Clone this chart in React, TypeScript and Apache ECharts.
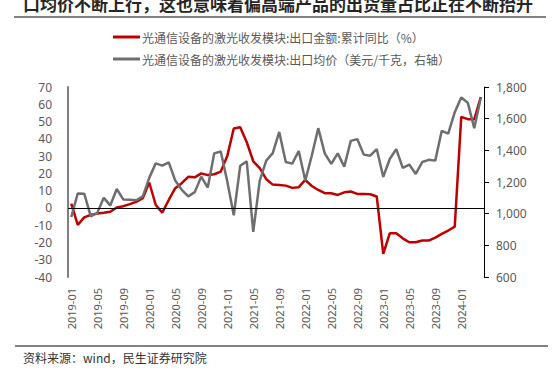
import React, { useEffect, useRef } from "react";
import * as echarts from "echarts";

const categories = [
  "2019-01","2019-02","2019-03","2019-04","2019-05","2019-06","2019-07","2019-08","2019-09","2019-10","2019-11","2019-12",
  "2020-01","2020-02","2020-03","2020-04","2020-05","2020-06","2020-07","2020-08","2020-09","2020-10","2020-11","2020-12",
  "2021-01","2021-02","2021-03","2021-04","2021-05","2021-06","2021-07","2021-08","2021-09","2021-10","2021-11","2021-12",
  "2022-01","2022-02","2022-03","2022-04","2022-05","2022-06","2022-07","2022-08","2022-09","2022-10","2022-11","2022-12",
  "2023-01","2023-02","2023-03","2023-04","2023-05","2023-06","2023-07","2023-08","2023-09","2023-10","2023-11","2023-12",
  "2024-01","2024-02","2024-03","2024-04",
];

// 出口金额:累计同比 (%)
const exportValueYoY = [
  2.5, -9.8, -5.5, -4, -3.3, -2.8, -2.2, 0.2, 1, 2.2, 3.5, 5.6,
  14.7, 1.7, -2.7, 4.6, 11.4, 14.3, 18, 17.7, 20, 19, 19.5, 21,
  30, 46, 46.7, 38, 27, 23, 16.6, 13.5, 13.3, 12.9, 11.6, 12,
  16.2, 12.7, 10.4, 8.5, 8.5, 7.5, 9, 9.5, 8.1, 8.1, 7.9, 6.6,
  -26.6, -14.7, -14.7, -17.6, -19.9, -19.9, -18.9, -18.9, -17.2, -15, -13.1, -10.8,
  52.7, 51.4, 51.3, 64.2,
];

// 出口均价 (美元/千克, 右轴)
const exportAvgPrice = [
  979, 1128, 1126, 983, 1005, 1100, 1052, 1156, 1090, 1088, 1085, 1109,
  1226, 1318, 1303, 1324, 1209, 1151, 1109, 1136, 1234, 1165, 1381, 1393,
  1205, 990, 1303, 1330, 885, 1209, 1335, 1382, 1516, 1326, 1316, 1396,
  1209, 1366, 1540, 1381, 1314, 1381, 1297, 1460, 1471, 1373, 1366, 1408,
  1232, 1345, 1408, 1289, 1310, 1251, 1326, 1340, 1335, 1523, 1505, 1641,
  1733, 1701, 1540, 1731,
];

const seriesNames = [
  "光通信设备的激光收发模块:出口金额:累计同比（%）",
  "光通信设备的激光收发模块:出口均价（美元/千克，右轴）",
];

const leftTicks = { min: -40, max: 70, interval: 10 };
const rightTicks = { min: 600, max: 1800, interval: 200 };

const titleText = "口均价不断上行，这也意味着偏高端产品的出货量占比正在不断抬升";
const sourceText = "资料来源：wind，民生证券研究院";

const FONT = '"Noto Sans", "Noto Sans CJK SC", sans-serif';
const CJK = '"Noto Sans CJK SC", sans-serif';

export default function App() {
  const ref = useRef<HTMLDivElement>(null);
  useEffect(() => {
    if (!ref.current) return;
    const chart = echarts.init(ref.current, undefined, { renderer: "svg" });
    chart.setOption({
      animation: false,
      backgroundColor: "#ffffff",
      textStyle: { fontFamily: FONT },
      grid: { left: 68, right: 73, top: 87, bottom: 100, containLabel: false },
      legend: {
        orient: "vertical",
        left: 113,
        top: 31,
        padding: 0,
        itemWidth: 27,
        itemHeight: 3,
        itemGap: 10,
        icon: "rect",
        textStyle: { fontSize: 12, color: "#595959", fontFamily: CJK, padding: [0, 0, 0, -3] },
        data: seriesNames,
      },
      xAxis: {
        type: "category",
        data: categories,
        boundaryGap: true,
        axisLine: { show: false },
        axisTick: { show: false },
        axisLabel: { interval: 3, rotate: 90, fontSize: 11, color: "#595959", margin: 11 },
        splitLine: { show: false },
      },
      yAxis: [
        {
          type: "value",
          min: leftTicks.min,
          max: leftTicks.max,
          interval: leftTicks.interval,
          axisLine: { show: true, lineStyle: { color: "#808080", width: 2 } },
          axisTick: { show: false },
          axisLabel: { fontSize: 12, color: "#595959", margin: 16 },
          splitLine: { show: false },
        },
        {
          type: "value",
          min: rightTicks.min,
          max: rightTicks.max,
          interval: rightTicks.interval,
          position: "right",
          axisLine: { show: true, lineStyle: { color: "#000000", width: 1 } },
          axisTick: { show: true, length: 5, lineStyle: { color: "#000000" } },
          axisLabel: {
            fontSize: 12,
            color: "#595959",
            margin: 12,
            formatter: (v: number) => v.toLocaleString("en-US"),
          },
          splitLine: { show: false },
        },
      ],
      series: [
        {
          name: seriesNames[0],
          type: "line",
          yAxisIndex: 0,
          data: exportValueYoY,
          symbol: "none",
          lineStyle: { color: "#C00000", width: 2.5 },
          itemStyle: { color: "#C00000" },
          markLine: {
            silent: true,
            symbol: "none",
            label: { show: false },
            lineStyle: { color: "#000000", width: 1, type: "solid" },
            data: [{ yAxis: 0 }],
          },
        },
        {
          name: seriesNames[1],
          type: "line",
          yAxisIndex: 1,
          data: exportAvgPrice,
          symbol: "none",
          lineStyle: { color: "#6E6E6E", width: 2.5 },
          itemStyle: { color: "#6E6E6E" },
        },
      ],
      graphic: [
        {
          type: "text",
          left: 23,
          top: -5,
          style: { text: titleText, font: `bold 17px ${CJK}`, fill: "#262626" },
        },
        {
          type: "line",
          shape: { x1: 14, y1: 17, x2: 546, y2: 17 },
          style: { stroke: "#595959", lineWidth: 1.5 },
        },
        {
          type: "line",
          shape: { x1: 15, y1: 346, x2: 548, y2: 346 },
          style: { stroke: "#595959", lineWidth: 1.5 },
        },
        {
          type: "text",
          left: 23,
          top: 351,
          style: { text: sourceText, font: `12px ${CJK}`, fill: "#333333" },
        },
      ],
    });
    return () => chart.dispose();
  }, []);
  return <div ref={ref} style={{ position: "fixed", left: 0, top: 0, width: 557, height: 377 }} />;
}
